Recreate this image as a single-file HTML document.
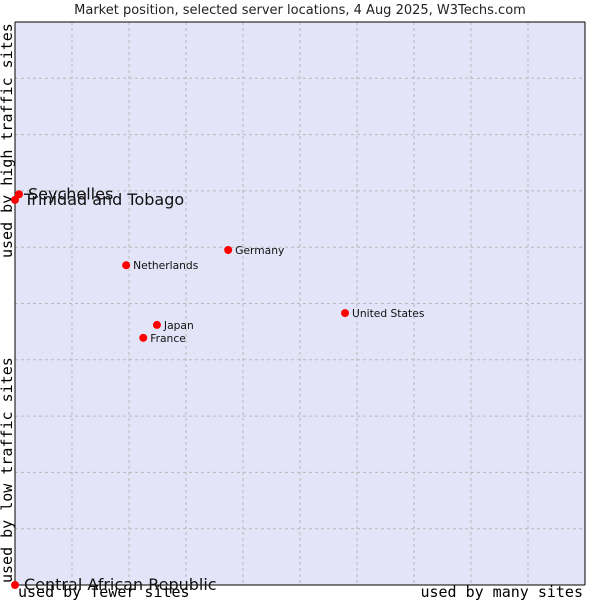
<!DOCTYPE html>
<html><head><meta charset="utf-8"><style>
body{margin:0;background:#fff;}
svg{display:block;font-family:"DejaVu Sans","Liberation Sans",sans-serif;}
</style></head><body>
<svg id="c" width="600" height="600">
<text x="300" y="14" text-anchor="middle" font-size="13" fill="#222">Market position, selected server locations, 4 Aug 2025, W3Techs.com</text>
<rect x="15" y="22" width="570" height="563" fill="#e4e4f8"/>
<g id="grid"></g>
<line x1="15" y1="22" x2="15" y2="585" stroke="#000"/>
<line x1="15" y1="585" x2="585" y2="585" stroke="#000"/>
<line x1="15" y1="22" x2="585" y2="22" stroke="#000"/>
<line x1="585" y1="22" x2="585" y2="585" stroke="#000"/>
<g font-family="'DejaVu Sans Mono','Liberation Mono',monospace" font-size="15" fill="#000">
<text x="18" y="597">used by fewer sites</text>
<text x="583" y="597" text-anchor="end">used by many sites</text>
<text transform="translate(12,583) rotate(-90)">used by low traffic sites</text>
<text transform="translate(12,258) rotate(-90)">used by high traffic sites</text>
</g>
<g id="pts"></g>
</svg>
<script>
const names=["Seychelles","Trinidad and Tobago","Germany","Netherlands","United States","Japan","France","Central African Republic"];
const xVals=[0.7,0,37.4,19.5,57.9,24.9,22.5,0];
const yVals=[69.4,68.4,59.5,56.8,48.3,46.2,43.9,0];
const bigLabel=[true,true,false,false,false,false,false,true];
const X=v=>15+v/100*570, Y=v=>585-v/100*563;
const ns="http://www.w3.org/2000/svg";
const grid=document.getElementById('grid');
for(let i=1;i<10;i++){
 const l=document.createElementNS(ns,'line');
 l.setAttribute('x1',X(i*10));l.setAttribute('x2',X(i*10));l.setAttribute('y1',22);l.setAttribute('y2',585);
 l.setAttribute('stroke','#b8b8b8');l.setAttribute('stroke-dasharray','3,3');
 
 
 grid.appendChild(l);
 const h=document.createElementNS(ns,'line');
 h.setAttribute('y1',Y(i*10));h.setAttribute('y2',Y(i*10));h.setAttribute('x1',15);h.setAttribute('x2',585);
 h.setAttribute('stroke','#b8b8b8');h.setAttribute('stroke-dasharray','3,3');
 
 
 grid.appendChild(h);
}
const pts=document.getElementById('pts');
names.forEach((n,i)=>{
 const cx=X(xVals[i]),cy=Y(yVals[i]);
 const c=document.createElementNS(ns,'circle');
 c.setAttribute('cx',cx);c.setAttribute('cy',cy);c.setAttribute('r',4);c.setAttribute('fill','#f00');
 
 
 pts.appendChild(c);
 const t=document.createElementNS(ns,'text');
 t.setAttribute('x',cx+(bigLabel[i]?9:7));t.setAttribute('y',cy+(bigLabel[i]?5:4));
 t.setAttribute('font-size',bigLabel[i]?16:10.7);t.setAttribute('fill','#111');
 t.textContent=n;
 
 
 pts.appendChild(t);
});
</script>
</body></html>
